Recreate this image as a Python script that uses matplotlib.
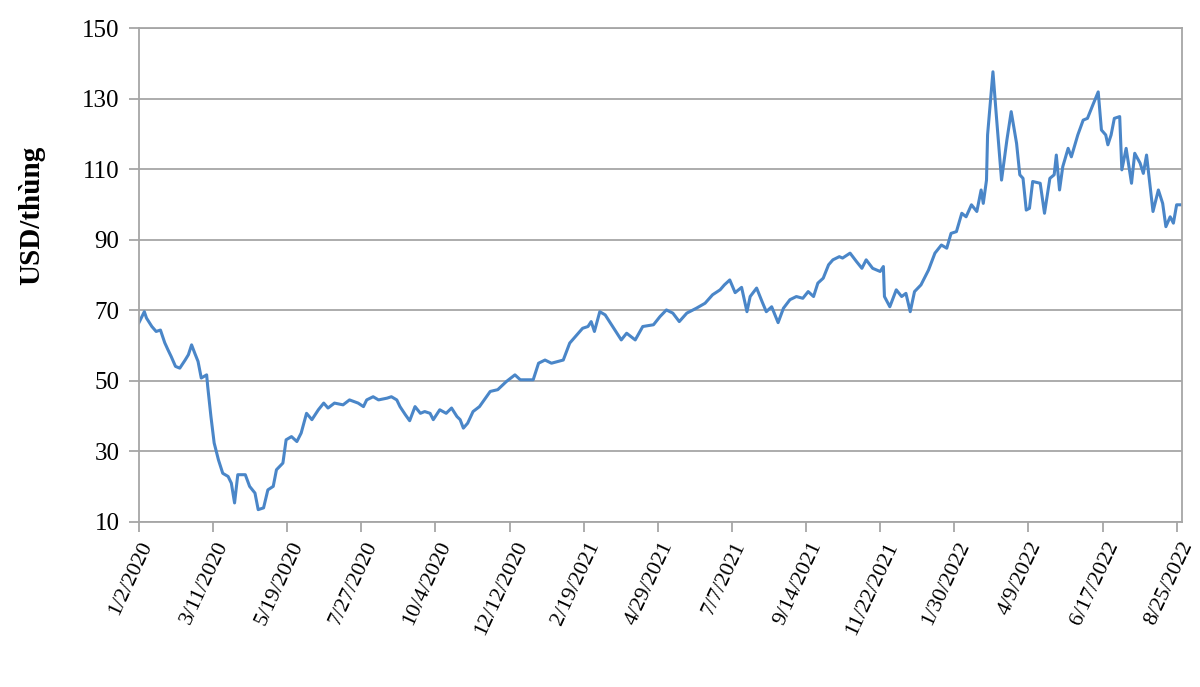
import pandas as pd
import matplotlib.pyplot as plt
from matplotlib.transforms import ScaledTranslation

# Brent price: days since 1/2/2020 and USD per barrel
start = pd.Timestamp("2020-01-02")
end = pd.Timestamp("2022-08-30")

day_offset = [
    0, 5, 7, 12, 16, 20, 24, 27, 30, 34, 38, 43, 46, 49, 52, 55, 58, 63, 64, 67,
    70, 74, 78, 83, 86, 89, 92, 99, 103, 108, 111, 116, 120, 125, 128, 134, 137, 142, 147, 151,
    156, 161, 167, 172, 176, 182, 190, 196, 204, 209, 212, 218, 223, 231, 235, 240, 243, 248, 252, 257,
    262, 266, 271, 274, 280, 286, 291, 296, 299, 302, 306, 311, 317, 327, 334, 342, 350, 355, 367, 372,
    378, 384, 390, 395, 401, 409, 413, 418, 421, 424, 429, 434, 438, 445, 449, 454, 462, 469, 479, 485,
    491, 497, 503, 510, 519, 527, 534, 541, 545, 550, 555, 561, 566, 569, 575, 580, 584, 589, 595, 600,
    606, 612, 618, 623, 628, 632, 637, 642, 646, 652, 655, 662, 668, 673, 677, 683, 690, 693, 694, 699,
    705, 710, 714, 718, 722, 728, 735, 741, 747, 752, 756, 761, 766, 770, 775, 780, 784, 786, 789, 790,
    795, 798, 803, 808, 812, 817, 820, 823, 826, 829, 832, 839, 843, 848, 852, 854, 857, 860, 865, 868,
    874, 879, 883, 888, 893, 896, 900, 902, 905, 908, 913, 915, 919, 924, 927, 932, 935, 938, 944, 949,
    953, 956, 960, 963, 966, 971,
]
price = [
    66.5, 69.6, 67.8, 65.4, 64.0, 64.4, 60.8, 58.8, 56.9, 54.1, 53.6, 55.9, 57.4, 60.2, 57.8, 55.5, 50.8, 51.7, 48.4, 39.9,
    32.4, 27.6, 23.8, 22.9, 21.0, 15.4, 23.4, 23.4, 20.1, 18.2, 13.5, 14.0, 19.1, 20.1, 24.8, 26.7, 33.3, 34.2, 32.8, 35.2,
    40.8, 39.0, 41.8, 43.7, 42.3, 43.7, 43.2, 44.6, 43.7, 42.7, 44.6, 45.5, 44.6, 45.1, 45.5, 44.6, 42.7, 40.4, 38.7, 42.7,
    40.8, 41.3, 40.8, 39.0, 41.8, 40.8, 42.3, 39.9, 39.0, 36.6, 38.0, 41.3, 42.7, 47.0, 47.5, 49.8, 51.7, 50.3, 50.3, 55.0,
    55.9, 55.0, 55.5, 55.9, 60.7, 63.5, 64.9, 65.4, 66.8, 64.0, 69.6, 68.7, 66.8, 63.5, 61.6, 63.5, 61.6, 65.4, 65.9, 68.2,
    70.1, 69.2, 66.8, 69.2, 70.6, 72.0, 74.4, 75.8, 77.2, 78.6, 75.0, 76.5, 69.6, 73.9, 76.3, 72.5, 69.6, 71.0, 66.5, 70.6,
    73.0, 73.9, 73.4, 75.3, 73.9, 77.7, 79.1, 82.9, 84.3, 85.2, 84.8, 86.2, 83.8, 81.9, 84.3, 81.9, 81.0, 82.4, 73.9, 71.0,
    75.8, 73.9, 74.8, 69.6, 75.3, 77.2, 81.4, 86.2, 88.5, 87.6, 91.8, 92.3, 97.5, 96.5, 99.9, 98.0, 104.1, 100.3, 106.9, 119.7,
    137.6, 125.8, 106.9, 118.3, 126.3, 117.3, 108.4, 107.4, 98.4, 98.9, 106.5, 106.0, 97.5, 107.4, 108.4, 114.0, 104.1, 110.7, 115.9, 113.5,
    119.7, 123.9, 124.4, 128.2, 131.9, 121.1, 119.7, 116.9, 119.7, 124.4, 124.9, 109.8, 115.9, 106.0, 114.5, 111.7, 108.8, 114.0, 98.0, 104.1,
    100.3, 93.7, 96.5, 94.7, 99.9, 99.9,
]

dates = start + pd.to_timedelta(day_offset, unit="D")

# Excel-style date axis: one tick every 69 days
tick_dates = pd.date_range(start, end, freq="69D")
tick_labels = [f"{d.month}/{d.day}/{d.year}" for d in tick_dates]

plt.rcParams["font.family"] = ["Liberation Serif", "DejaVu Serif"]

fig = plt.figure(figsize=(12, 6.87), dpi=100)
ax = fig.add_axes([0.1158, 0.2402, 0.985 - 0.1158, 0.9592 - 0.2402])

ax.plot(dates, price, color="#4a86c8", linewidth=2.2, solid_joinstyle="round")

ax.set_ylim(10, 150)
ax.set_yticks(range(10, 151, 20))
ax.set_xlim(start, end)
ax.set_xticks(tick_dates)

ax.grid(axis="y", color="#a6a6a6", linewidth=1.3)
ax.set_axisbelow(True)
for side in ["left", "bottom", "right", "top"]:
    ax.spines[side].set_color("#a6a6a6")
    ax.spines[side].set_linewidth(1.3)

ax.tick_params(axis="both", direction="out", length=7, color="#a6a6a6", width=1.3)
ax.tick_params(axis="y", labelsize=18, pad=7)
ax.tick_params(axis="x", pad=5)

# date labels slanted, nudged a little left of their ticks
ax.set_xticklabels(tick_labels, rotation=65, ha="center", va="top", fontsize=16)
shift = ScaledTranslation(-8 / 100, 0, fig.dpi_scale_trans)
for lbl in ax.get_xticklabels():
    lbl.set_transform(lbl.get_transform() + shift)

ax.set_ylabel("USD/thùng", fontsize=21, fontweight="bold")
ax.yaxis.set_label_coords(-0.090, 0.62)

plt.savefig("out.png", dpi=100)
